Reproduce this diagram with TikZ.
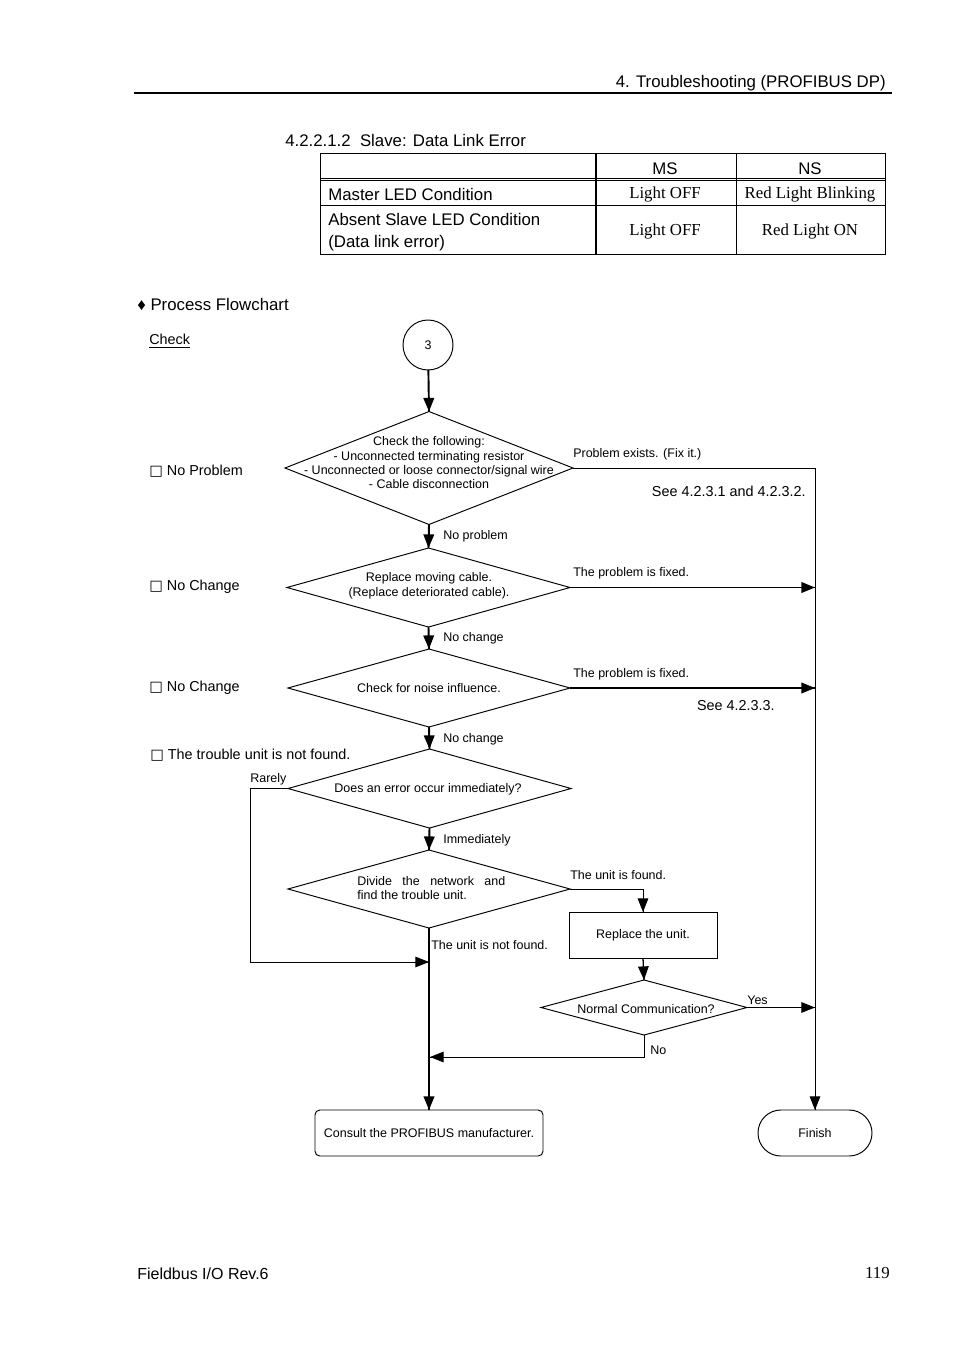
\documentclass[tikz,border=0pt]{standalone}
\usepackage{fontspec}
\setmainfont{Liberation Sans}
\newfontfamily\timesfont{Liberation Serif}
\newfontfamily\symfont{DejaVu Sans}
\usetikzlibrary{arrows.meta}
\usetikzlibrary{decorations.markings}
\usetikzlibrary{shapes.geometric}
\tikzset{flow/.style = {decoration={markings,
                                    mark=at position 1 with {\arrow{Triangle[length=8.5pt,width=6.6pt]}}},
                        postaction={decorate}}}
\tikzset{thinline/.style = {line width=0.6pt}}
\tikzset{thickline/.style = {line width=1.2pt}}
\tikzset{decision/.style = {draw, diamond, thinline, inner sep=0, outer sep=0}}
\tikzset{procbox/.style = {draw, rectangle, thinline, inner sep=0, outer sep=0}}
\tikzset{small/.style = {font=\fontsize{7.8}{8.95}\selectfont, inner sep=0, yshift=-0.8pt}}
\tikzset{body/.style = {font=\fontsize{9}{11}\selectfont, inner sep=0, yshift=-0.9pt}}
\tikzset{big/.style = {font=\fontsize{10.5}{12.5}\selectfont, inner sep=0, yshift=-0.9pt}}
\tikzset{serif/.style = {font=\fontsize{10.5}{12.5}\timesfont, inner sep=0, yshift=-0.9pt}}
\newcommand{\tick}{{\symfont\fontsize{9}{10}\selectfont □}}

\begin{document}
\begin{tikzpicture}[x=0.625pt, y=-0.625pt]
  \useasboundingbox (0,0) rectangle (954,1351);
  % page header
  \node [big, anchor=east] (chapter) at (886,82) {4. Troubleshooting (PROFIBUS DP)};
  \draw [line width=1.25pt] (134,93) -- (892,93);
  \node [big, anchor=west] (section) at (285,139) {4.2.2.1.2\ \ Slave: Data Link Error};

  % LED table
  \draw [thinline] (320,153) rectangle (885,254);
  \draw [thinline] (320,178) -- (885,178);
  \draw [thinline] (320,180.5) -- (885,180.5);
  \draw [thinline] (320,205) -- (885,205);
  \draw [line width=1.2pt] (596,153) -- (596,254);
  \draw [thinline] (736,153) -- (736,254);
  \node [big] (ms) at (665,167) {MS};
  \node [big] (ns) at (810,167) {NS};
  \node [big, anchor=west] (master) at (328,193) {Master LED Condition};
  \node [serif] (msmaster) at (665,193) {Light OFF};
  \node [serif] (nsmaster) at (810,193) {Red Light Blinking};
  \node [big, anchor=west] (absent) at (328,218) {Absent Slave LED Condition};
  \node [big, anchor=west] (dlerror) at (328,242) {(Data link error)};
  \node [serif] (msabsent) at (665,230) {Light OFF};
  \node [serif] (nsabsent) at (810,230) {Red Light ON};

  % check column
  \node [big, anchor=west] (process) at (137,303) {♦ Process Flowchart};
  \node [body, anchor=west] (check) at (149,340) {\underline{Check}};
  \node [body, anchor=west] (chkone) at (149,470) {\tick\ No Problem};
  \node [body, anchor=west] (chktwo) at (149,585) {\tick\ No Change};
  \node [body, anchor=west] (chkthree) at (149,686) {\tick\ No Change};
  \node [body, anchor=west] (chkfour) at (150,754) {\tick\ The trouble unit is not found.};

  % flowchart nodes
  \node [draw, circle, thinline, minimum size=31.25pt, inner sep=0, outer sep=0,
         font=\fontsize{7.8}{8.95}\selectfont] (start) at (428,345) {3};
  \node [decision, minimum width=180pt, minimum height=70.6pt] (wiring) at (429,468) {};
  \node [small, align=center] (wiringtxt) at (429,461.5) {Check the following:\\- Unconnected terminating resistor\\- Unconnected or loose connector/signal wire\\- Cable disconnection};
  \node [decision, minimum width=176.9pt, minimum height=49.4pt] (cable) at (428.5,587.5) {};
  \node [small, align=center] (cabletxt) at (429,584.5) {Replace moving cable.\\(Replace deteriorated cable).};
  \node [decision, minimum width=176.3pt, minimum height=48.75pt] (noise) at (429,688) {};
  \node [small] (noisetxt) at (429,686.5) {Check for noise influence.};
  \node [decision, minimum width=176.9pt, minimum height=49.4pt] (often) at (429.5,788.5) {};
  \node [small] (oftentxt) at (428,787.5) {Does an error occur immediately?};
  \node [decision, minimum width=176.3pt, minimum height=48.75pt] (divide) at (429,889) {};
  \node [small, align=left, anchor=west] (dividetxt) at (357,886.5) {\makebox[92.5pt][s]{Divide the network and}\\find the trouble unit.};
  \node [procbox, minimum width=92.5pt, minimum height=28.75pt,
         font=\fontsize{7.8}{8.95}\selectfont] (replace) at (643,935) {Replace the unit.};
  \node [decision, minimum width=128.75pt, minimum height=34.4pt] (normal) at (644,1007.5) {};
  \node [small] (normaltxt) at (646,1007.5) {Normal Communication?};
  \node [procbox, rounded corners=3pt, minimum width=142.5pt, minimum height=28.75pt,
         font=\fontsize{7.8}{8.95}\selectfont] (consult) at (429,1133) {Consult the PROFIBUS manufacturer.};
  \node [procbox, rounded corners=14.3pt, minimum width=71.25pt, minimum height=28.75pt,
         font=\fontsize{7.8}{8.95}\selectfont] (finish) at (815,1133) {Finish};
  \coordinate (rejoin) at (429,962);
  \coordinate (retry) at (430,1057);

  % main flow
  \draw [thickline, flow] (start) -- (wiring.north);
  \draw [thickline, flow] (wiring.south) -- (cable.north);
  \draw [thickline, flow] (cable.south) -- (noise.north);
  \draw [thickline, flow] (noise.south) -- (often.north);
  \draw [thickline, flow] (often.south) -- (divide.north);
  \draw [thickline, flow] (divide.south) -- (consult.north);
  \draw [thinline, flow] (often.west) -- ++(-38,0) |- (rejoin);
  \draw [thinline, flow] (divide.east) -| (replace.north);
  \draw [line width=0.8pt, flow] (replace.south) -- (normal.north);
  \draw [thinline, flow] (normal.south) |- (retry);

  % branches to finish
  \draw [thinline, flow] (wiring.east) -| (finish.north);
  \draw [thickline, flow] (cable.east) -- (cable.east -| finish.north);
  \draw [thickline, flow] (noise.east) -- (noise.east -| finish.north);
  \draw [thinline, flow] (normal.east) -- (normal.east -| finish.north);

  % connector labels
  \node [small, anchor=west] (lbfix) at (573,453) {Problem exists. (Fix it.)};
  \node [body, anchor=east] (lbsee) at (806,490) {See 4.2.3.1 and 4.2.3.2.};
  \node [small, anchor=west] (lbnoprob) at (443,534.5) {No problem};
  \node [small, anchor=west] (lbfixed) at (573,571.5) {The problem is fixed.};
  \node [small, anchor=west] (lbnochg) at (443,636.5) {No change};
  \node [small, anchor=west] (lbfixedtwo) at (573,672.5) {The problem is fixed.};
  \node [body, anchor=east] (lbseetwo) at (775,704) {See 4.2.3.3.};
  \node [small, anchor=west] (lbnochgtwo) at (443,737.5) {No change};
  \node [small, anchor=west] (lbrarely) at (250,777.5) {Rarely};
  \node [small, anchor=west] (lbimm) at (443,838.5) {Immediately};
  \node [small, anchor=west] (lbfound) at (570,873.5) {The unit is found.};
  \node [small, anchor=west] (lbnotfound) at (431,943.5) {The unit is not found.};
  \node [small, anchor=west] (lbyes) at (747,998.5) {Yes};
  \node [small, anchor=west] (lbno) at (650,1048.5) {No};

  % page footer
  \node [font=\fontsize{10}{12}\selectfont, inner sep=0, anchor=west, yshift=-0.9pt] (footer) at (137,1272) {Fieldbus I/O Rev.6};
  \node [font=\fontsize{10.5}{12}\timesfont, inner sep=0, anchor=east, yshift=-0.9pt] (page) at (890,1272) {119};
\end{tikzpicture}
\end{document}
